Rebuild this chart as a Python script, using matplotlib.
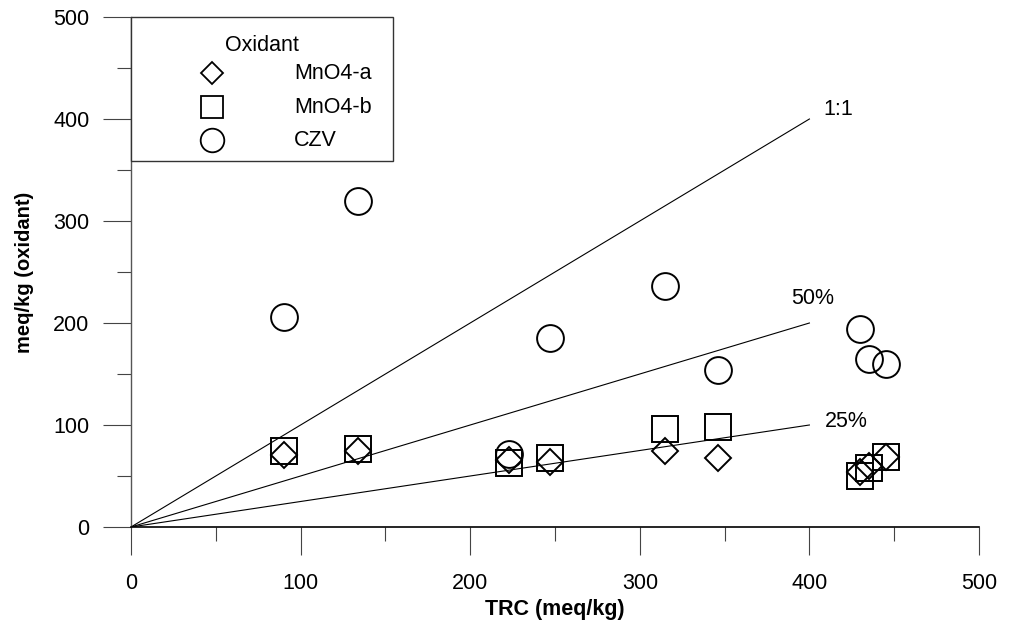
import matplotlib
matplotlib.use("Agg")
import matplotlib.pyplot as plt
from matplotlib.patches import Rectangle
from matplotlib.ticker import MultipleLocator

plt.rcParams['font.family'] = ['Liberation Sans', 'DejaVu Sans']

# Data
trc = [90, 134, 223, 247, 315, 346, 430, 435, 445]
mno4_a = [71, 75, 66, 64, 75, 68, 54, 60, 69]
mno4_b = [75, 76, 63, 68, 96, 98, 50, 58, 69]
czv = [206, 320, 72, 185, 236, 154, 194, 165, 160]

ref_x = [0, 400]
ratio_labels = ["1:1", "50%", "25%"]
ratios = [1.0, 0.5, 0.25]
label_pos = [(408, 409), (389, 224), (409, 103)]

legend_title = "Oxidant"
legend_names = ["MnO4-a", "MnO4-b", "CZV"]

FS = 15.5

fig = plt.figure(figsize=(10.1, 6.24), dpi=100)
ax = fig.add_axes([131/1010, 1-527/624, 848/1010, 510/624])

ax.set_xlim(0, 500)
ax.set_ylim(0, 500)

for r in ratios:
    ax.plot(ref_x, [x * r for x in ref_x], color='black', lw=0.8, zorder=2)
for lab, (lx, ly) in zip(ratio_labels, label_pos):
    ax.text(lx, ly, lab, fontsize=FS, ha='left', va='center', color='black')

mk = dict(linestyle='none', markerfacecolor='none', markeredgecolor='black',
          markeredgewidth=1.4, zorder=3, clip_on=False)
ax.plot(trc, mno4_b, marker='s', markersize=19, **mk)
ax.plot(trc, mno4_a, marker='D', markersize=12.8, **mk)
ax.plot(trc, czv, marker='o', markersize=19.3, **mk)

# spines / ticks
for s in ['top', 'right']:
    ax.spines[s].set_visible(False)
ax.spines['left'].set_color('#555555')
ax.spines['bottom'].set_color('black')
ax.spines['left'].set_linewidth(1.0)
ax.spines['bottom'].set_linewidth(1.2)

ax.xaxis.set_major_locator(MultipleLocator(100))
ax.xaxis.set_minor_locator(MultipleLocator(50))
ax.yaxis.set_major_locator(MultipleLocator(100))
ax.yaxis.set_minor_locator(MultipleLocator(50))
ax.tick_params(which='major', direction='out', length=20, width=0.8, color='#444444',
               labelsize=FS, pad=10)
ax.tick_params(which='minor', direction='out', length=10, width=0.8, color='#444444')
ax.tick_params(axis='x', which='major', pad=13)

fig.text(555/1010, 1-609/624, "TRC (meq/kg)", fontsize=15.5, fontweight='bold',
         ha='center', va='center')
fig.text(25/1010, 1-272/624, "meq/kg (oxidant)", fontsize=14.5, fontweight='bold',
         ha='center', va='center', rotation=90)

# Legend (manual)
box = Rectangle((0, 0.7176), 0.309, 1 - 0.7176, transform=ax.transAxes,
                facecolor='white', edgecolor='#333333', lw=1.0, zorder=5, clip_on=False)
ax.add_patch(box)
ax.text(0.1545, 0.945, legend_title, transform=ax.transAxes, fontsize=FS,
        ha='center', va='center', zorder=6)
leg_markers = [('D', 10.8), ('s', 16.3), ('o', 17.0)]
rows_y = [0.8896, 0.823, 0.7588]
for (m, ms), name, yy in zip(leg_markers, legend_names, rows_y):
    ax.plot([0.0959], [yy], marker=m, markersize=ms, linestyle='none',
            markerfacecolor='none', markeredgecolor='black', markeredgewidth=1.3,
            transform=ax.transAxes, zorder=6, clip_on=False)
    ax.text(0.1922, yy, name, transform=ax.transAxes, fontsize=FS,
            ha='left', va='center', zorder=6)

fig.savefig("out.png", dpi=100)
